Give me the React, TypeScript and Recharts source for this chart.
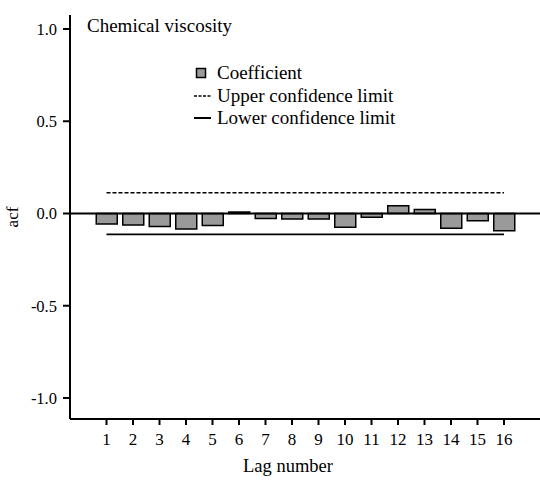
import { ComposedChart, Bar, Line, XAxis, YAxis, ReferenceLine, Legend } from "recharts";

// ACF of chemical viscosity, lags 1..16
const lags = [1, 2, 3, 4, 5, 6, 7, 8, 9, 10, 11, 12, 13, 14, 15, 16];
const coefficients = [
  -0.057, -0.063, -0.07, -0.084, -0.065, 0.008, -0.027, -0.03,
  -0.03, -0.074, -0.021, 0.042, 0.022, -0.08, -0.039, -0.093,
];
const upperLimits = [
  0.113, 0.113, 0.113, 0.113, 0.113, 0.113, 0.113, 0.113,
  0.113, 0.113, 0.113, 0.113, 0.113, 0.113, 0.113, 0.113,
];
const lowerLimits = [
  -0.113, -0.113, -0.113, -0.113, -0.113, -0.113, -0.113, -0.113,
  -0.113, -0.113, -0.113, -0.113, -0.113, -0.113, -0.113, -0.113,
];
const yTicks = [-1, -0.5, 0, 0.5, 1];
const legendOrder = ["Coefficient", "Upper confidence limit", "Lower confidence limit"];

const data = lags.map((lag, i) => ({
  lag,
  coef: coefficients[i],
  upper: upperLimits[i],
  lower: lowerLimits[i],
}));

const FONT = "'Liberation Serif', 'Times New Roman', Times, serif";

const renderLegend = (props: any) => {
  const { payload } = props;
  return (
    <div style={{ fontFamily: FONT, fontSize: 19, lineHeight: "22.5px", color: "#000" }}>
      {payload.map((entry: any) => (
        <div key={entry.value} style={{ display: "flex", alignItems: "center" }}>
          <svg width={23} height={12} style={{ flexShrink: 0 }}>
            {entry.dataKey === "coef" ? (
              <rect x={2.5} y={1.5} width={9} height={9} fill="#9a9a9a" stroke="#000" strokeWidth={1.5} />
            ) : entry.dataKey === "upper" ? (
              <line x1={0} y1={6} x2={17} y2={6} stroke="#000" strokeWidth={1.3} strokeDasharray="3 1.5" />
            ) : (
              <line x1={0} y1={6} x2={17} y2={6} stroke="#000" strokeWidth={2} />
            )}
          </svg>
          <span>{entry.value}</span>
        </div>
      ))}
    </div>
  );
};

export default function App() {
  return (
    <div style={{ position: "absolute", left: 0, top: 0, width: 540, height: 481, background: "#fff", fontFamily: FONT }}>
      <div
        style={{
          position: "absolute",
          left: 87,
          top: 15,
          fontFamily: FONT,
          fontSize: 19,
          lineHeight: "22px",
          zIndex: 2,
        }}
      >
        Chemical viscosity
      </div>
      <ComposedChart
        width={540}
        height={481}
        data={data}
        margin={{ top: 15, right: 0, left: 0, bottom: 0 }}
        style={{ fontFamily: FONT }}
      >
        <XAxis
          dataKey="lag"
          height={62}
          padding={{ left: 23.25, right: 22.75 }}
          axisLine={{ stroke: "#000", strokeWidth: 2 }}
          tickLine={{ stroke: "#000", strokeWidth: 2 }}
          tickSize={6}
          tickMargin={8}
          tick={{ fill: "#000", fontSize: 17, fontFamily: FONT }}
          interval={0}
          label={{
            content: () => (
              <text x={288} y={472} textAnchor="middle" fontSize={18.5} fill="#000" fontFamily={FONT}>
                Lag number
              </text>
            ),
          }}
        />
        <YAxis
          width={70}
          domain={[-1.114, 1.076]}
          ticks={yTicks}
          allowDataOverflow
          tickFormatter={(v: number) => v.toFixed(1)}
          axisLine={{ stroke: "#000", strokeWidth: 2 }}
          tickLine={{ stroke: "#000", strokeWidth: 2 }}
          tickSize={7}
          tickMargin={6}
          tick={{ fill: "#000", fontSize: 16.5, fontFamily: FONT }}
          label={{
            content: () => (
              <text
                x={18}
                y={217}
                textAnchor="middle"
                fontSize={17}
                fill="#000"
                fontFamily={FONT}
                transform="rotate(-90 18 217)"
              >
                acf
              </text>
            ),
          }}
        />
        <Legend
          layout="vertical"
          verticalAlign="middle"
          align="center"
          content={renderLegend}
          itemSorter={(item: any) => legendOrder.indexOf(item.value)}
          wrapperStyle={{ position: "absolute", left: 194, top: 62, width: "auto", height: "auto" }}
        />
        <ReferenceLine y={0} stroke="#000" strokeWidth={1.8} />
        <Bar
          dataKey="coef"
          name="Coefficient"
          barSize={21}
          fill="#9a9a9a"
          stroke="#000"
          strokeWidth={1.5}
          isAnimationActive={false}
        />
        <Line
          dataKey="upper"
          name="Upper confidence limit"
          stroke="#000"
          strokeWidth={1.5}
          strokeDasharray="4 2"
          dot={false}
          activeDot={false}
          isAnimationActive={false}
        />
        <Line
          dataKey="lower"
          name="Lower confidence limit"
          stroke="#000"
          strokeWidth={1.8}
          dot={false}
          activeDot={false}
          isAnimationActive={false}
        />
      </ComposedChart>
    </div>
  );
}
